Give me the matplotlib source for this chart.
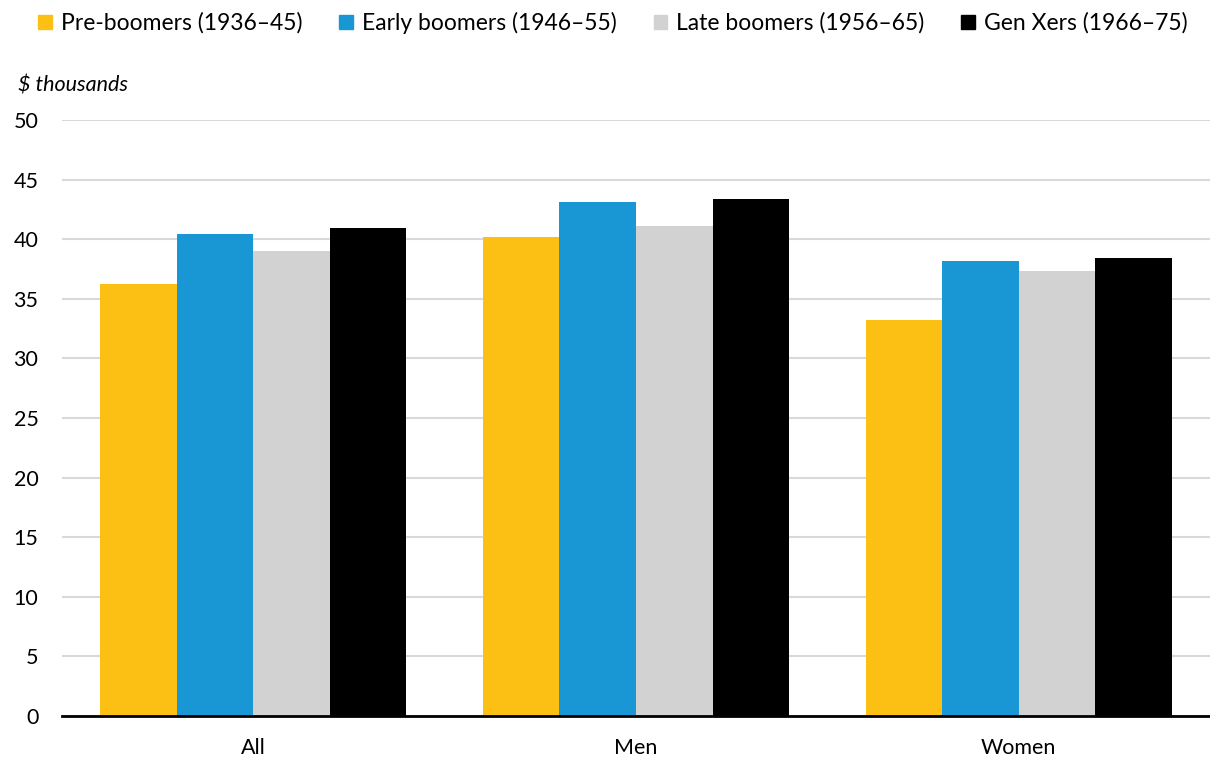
import numpy as np
import matplotlib.pyplot as plt
from matplotlib.patches import Patch

plt.rcParams['font.family'] = ['Lato', 'DejaVu Sans']

# data
groups = ['All', 'Men', 'Women']
series = ['Pre-boomers (1936–45)', 'Early boomers (1946–55)',
          'Late boomers (1956–65)', 'Gen Xers (1966–75)']
pre_boomers = [36.2, 40.2, 33.2]
early_boomers = [40.4, 43.1, 38.2]
late_boomers = [39.0, 41.1, 37.3]
gen_xers = [40.9, 43.4, 38.4]
values = [pre_boomers, early_boomers, late_boomers, gen_xers]
colors = ['#FCBF13', '#1897D4', '#D2D2D2', '#000000']

fig = plt.figure(figsize=(12.1, 7.57), dpi=100)
ax = fig.add_axes([62 / 1210, 1 - 716 / 757, 1 - 62 / 1210, (716 - 120) / 757])

x = np.arange(len(groups))
w = 0.2
for i, (vals, c) in enumerate(zip(values, colors)):
    ax.bar(x + (i - 1.5) * w, vals, width=w, color=c, zorder=3, label=series[i])

ax.set_xlim(-0.5, 2.5)
ax.set_ylim(0, 50)
ax.set_yticks(range(0, 51, 5))
ax.set_xticks(x)
ax.set_xticklabels(groups)
ax.yaxis.grid(True, color='#D9D9D9', lw=1.5, zorder=0)
ax.tick_params(axis='both', length=0, labelsize=15.5)
ax.tick_params(axis='y', pad=17)
ax.tick_params(axis='x', pad=16)
for s in ['top', 'right', 'left']:
    ax.spines[s].set_visible(False)
ax.spines['bottom'].set_linewidth(2)
ax.spines['bottom'].set_zorder(4)

fig.text(18 / 1210, 1 - 85 / 757, '$ thousands', fontsize=15.5, style='italic',
         va='center', ha='left')

handles = [Patch(color=c) for c in colors]
fig.legend(handles, series, loc='center', bbox_to_anchor=(613 / 1210, 1 - 23 / 757),
           ncol=4, frameon=False, fontsize=16.5, handlelength=0.6, handleheight=0.6,
           handletextpad=0.4, columnspacing=1.6)

fig.savefig('out.png', dpi=100)
